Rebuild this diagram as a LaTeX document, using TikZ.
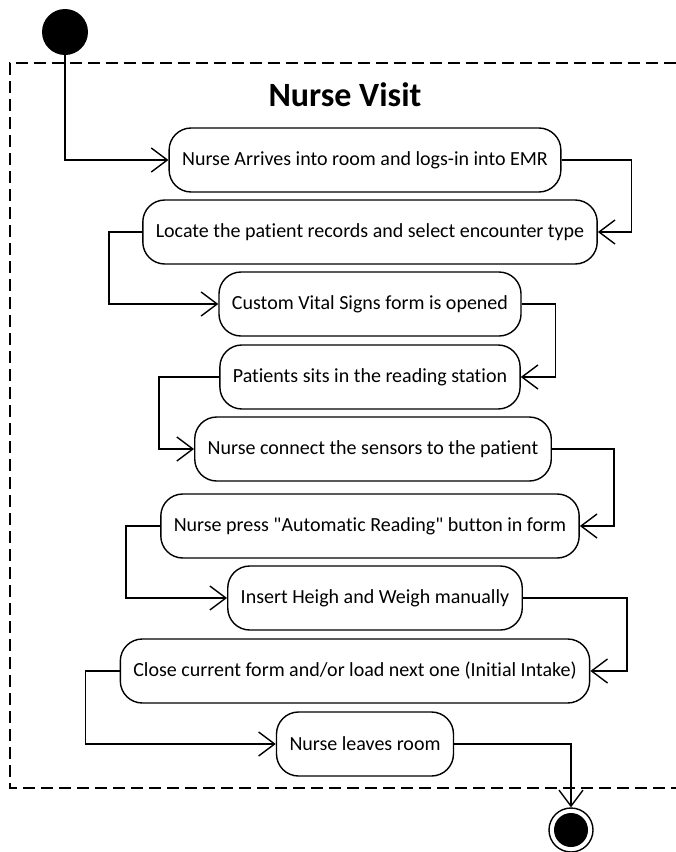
\documentclass[tikz,border=0pt]{standalone}
\usepackage{fontspec}
\setmainfont{Carlito}[Ligatures={TeXOff,NoCommon}]
\usepackage{tikz}
\usetikzlibrary{arrows.meta}

\begin{document}
\begin{tikzpicture}[x=1pt,y=-1pt,font=\fontsize{20}{24}\selectfont,
    act/.style={draw,line width=1.4pt,rounded corners=22pt,
        minimum height=64pt,inner xsep=13pt},
    flow/.style={line width=1.4pt,-{Straight Barb[length=16pt,width=24pt]}},
    frame/.style={line width=1.6pt,dash pattern=on 12pt off 6pt},
    startnode/.style={circle,fill=black,minimum size=46pt,inner sep=0pt},
    stopnode/.style={circle,draw,line width=1.4pt,minimum size=44pt,inner sep=0pt,
        path picture={\fill (path picture bounding box.center) circle (17pt);}}]
    \useasboundingbox (0,0) rectangle (676,852);

    \draw[frame] (676,63) -- (10,63) -- (10,788) -- (676,788);
    \node[font=\fontsize{34}{40}\selectfont\bfseries] (title) at (345,95) {Nurse Visit};

    \node[startnode] (start) at (65,32) {};
    \node[stopnode] (stop) at (571,830) {};

    \foreach [count=\i] \cx/\cy/\txt in {
        365/160/{Nurse Arrives into room and logs-in into EMR},
        370/232/{Locate the patient records and select encounter type},
        370/304/{Custom Vital Signs form is opened},
        370/377/{Patients sits in the reading station},
        373/449/{Nurse connect the sensors to the patient},
        370/526/{Nurse press "Automatic Reading" button in form},
        375/598/{Insert Heigh and Weigh manually},
        355/671/{Close current form and/or load next one (Initial Intake)},
        365/744/{Nurse leaves room}} {
        \node[act] (a\i) at (\cx,\cy) {\txt};
    }

    \draw[flow] (start.center) |- (a1.west);
    \foreach \src/\dst/\side/\dx in {a1/a2/east/70, a2/a3/west/-33,
        a3/a4/east/34, a4/a5/west/-60, a5/a6/east/62, a6/a7/west/-34,
        a7/a8/east/104, a8/a9/west/-34} {
        \draw[flow] (\src.\side) -- ++(\dx,0) |- (\dst.\side);
    }
    \draw[flow] (a9.east) -| (stop.north);
\end{tikzpicture}
\end{document}
